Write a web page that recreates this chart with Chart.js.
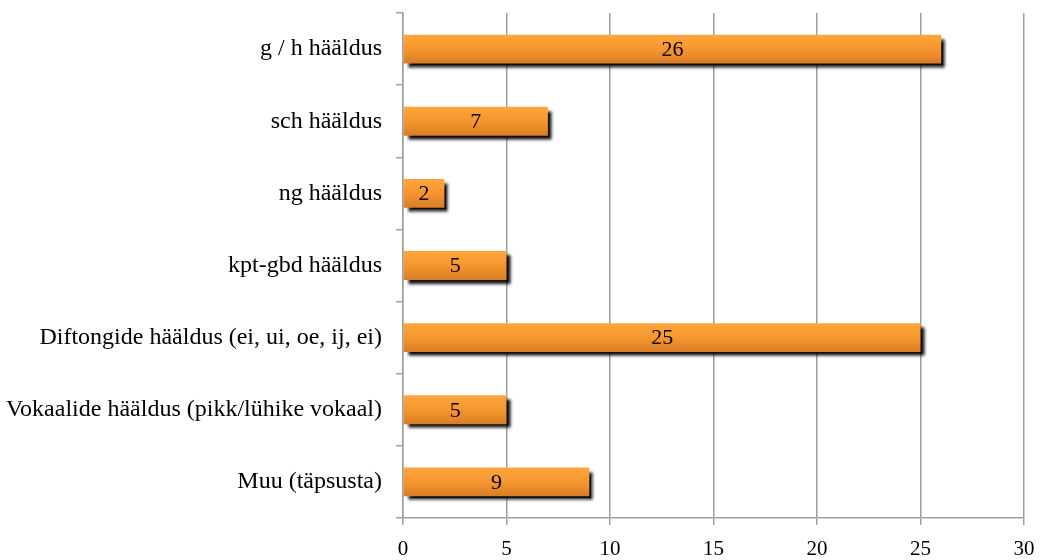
<!DOCTYPE html>
<html>
<head>
<meta charset="utf-8">
<script src="https://cdn.jsdelivr.net/npm/chart.js@4/dist/chart.umd.min.js"></script>
<style>
  html, body { margin: 0; padding: 0; background: #fff; }
  #wrap { width: 1043px; height: 560px; }
</style>
</head>
<body>
<div id="wrap"><canvas id="chart" width="1043" height="560"></canvas></div>
<script>
const categories = [
  "g / h hääldus",
  "sch hääldus",
  "ng hääldus",
  "kpt-gbd hääldus",
  "Diftongide hääldus (ei, ui, oe, ij, ei)",
  "Vokaalide hääldus (pikk/lühike vokaal)",
  "Muu (täpsusta)"
];
const counts = [26, 7, 2, 5, 25, 5, 9];
const xTicks = [0, 5, 10, 15, 20, 25, 30];

const FONT = "'Liberation Serif', 'Times New Roman', serif";

// black drop shadow under every bar
const barShadow = {
  id: "barShadow",
  beforeDatasetsDraw(chart) {
    const ctx = chart.ctx;
    ctx.save();
    ctx.shadowColor = "rgba(0,0,0,0.95)";
    ctx.shadowOffsetX = 4;
    ctx.shadowOffsetY = 4;
    ctx.shadowBlur = 3;
  },
  afterDatasetsDraw(chart) {
    chart.ctx.restore();
  }
};

// value written in the middle of each bar
const barValues = {
  id: "barValues",
  afterDatasetsDraw(chart) {
    const ctx = chart.ctx;
    const meta = chart.getDatasetMeta(0);
    ctx.save();
    ctx.fillStyle = "#000";
    ctx.font = "22px " + FONT;
    ctx.textAlign = "center";
    ctx.textBaseline = "middle";
    meta.data.forEach((bar, i) => {
      const x = (bar.base + bar.x) / 2;
      ctx.fillText(String(counts[i]), x, bar.y + 1);
    });
    ctx.restore();
  }
};

Chart.register(barShadow, barValues);

function barFill(context) {
  const chart = context.chart;
  const y = chart.scales.y;
  if (!y || context.dataIndex === undefined) return "#F39632";
  const cy = y.getPixelForValue(context.dataIndex);
  const h = (y.height / categories.length) * 0.4;
  if (!Number.isFinite(cy) || !Number.isFinite(h) || h <= 0) return "#F39632";
  const g = chart.ctx.createLinearGradient(0, cy - h / 2, 0, cy + h / 2);
  g.addColorStop(0, "#FFA63B");
  g.addColorStop(0.5, "#F5962F");
  g.addColorStop(1, "#DA7C26");
  return g;
}

new Chart(document.getElementById("chart"), {
  type: "bar",
  data: {
    labels: categories,
    datasets: [{
      data: counts,
      backgroundColor: barFill,
      borderWidth: 0,
      categoryPercentage: 1,
      barPercentage: 0.4
    }]
  },
  options: {
    indexAxis: "y",
    responsive: false,
    animation: false,
    layout: { padding: { top: 13, right: 19, left: 0, bottom: 0 } },
    plugins: {
      legend: { display: false },
      tooltip: { enabled: false }
    },
    scales: {
      x: {
        min: 0,
        max: 30,
        afterBuildTicks(scale) {
          scale.ticks = xTicks.map(v => ({ value: v }));
        },
        afterFit(scale) {
          scale.height = 42;
          scale.paddingLeft = 0;
          scale.paddingRight = 0;
        },
        grid: {
          color: "#9E9E9E",
          lineWidth: 1.5,
          drawTicks: true,
          tickLength: 7
        },
        border: { color: "#9E9E9E", width: 1.5 },
        ticks: {
          color: "#000",
          font: { family: FONT, size: 21 },
          padding: 12
        }
      },
      y: {
        afterFit(scale) {
          scale.width = 403;
          scale.paddingTop = 0;
          scale.paddingBottom = 0;
        },
        grid: {
          offset: true,
          drawOnChartArea: false,
          drawTicks: true,
          tickLength: 7,
          color: "#9E9E9E",
          lineWidth: 1.5
        },
        border: { color: "#9E9E9E", width: 1.5 },
        ticks: {
          color: "#000",
          font: { family: FONT, size: 24 },
          padding: 14
        }
      }
    }
  }
});
</script>
</body>
</html>
